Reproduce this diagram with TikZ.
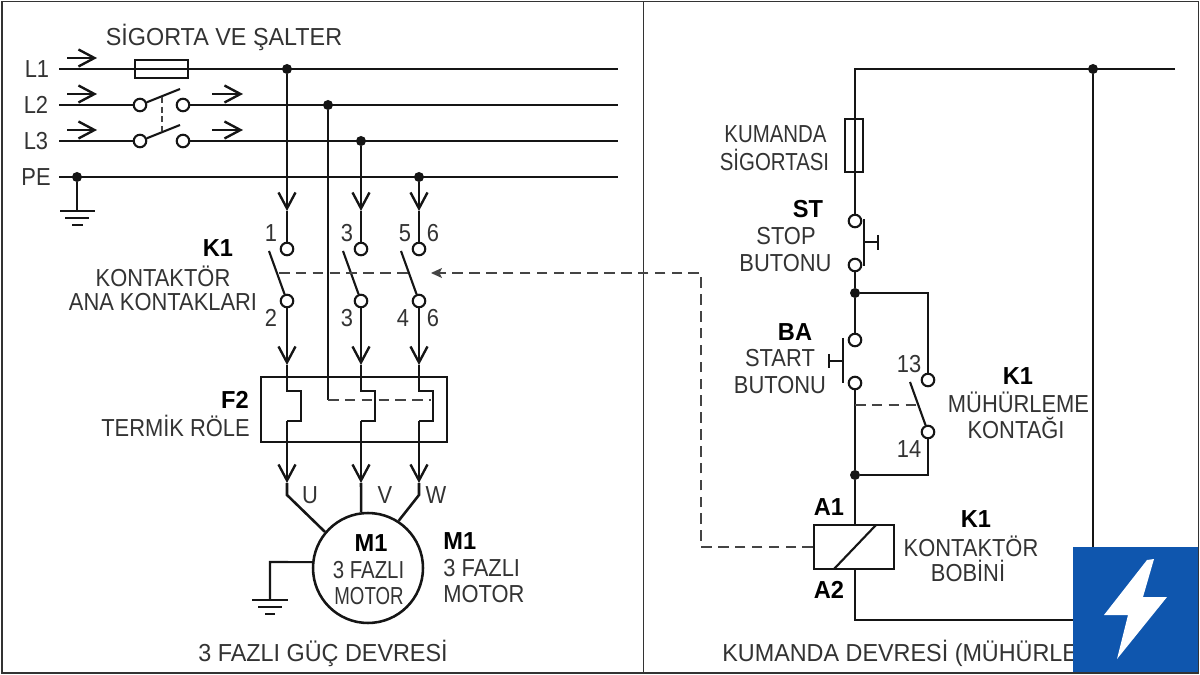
\documentclass[tikz,border=0pt]{standalone}
\usepackage{fontspec}
\setmainfont{Liberation Sans}[FakeStretch=0.89]
\newfontfamily\narrowfont{Liberation Sans}[FakeStretch=0.83]
\newfontfamily\motorfont{Liberation Sans}[FakeStretch=0.76]
\newfontfamily\titlefont{Liberation Sans}[FakeStretch=0.95]
\newfontfamily\heavyfont{Liberation Sans Bold}[FakeStretch=0.96]
\usepackage{xcolor}
\usetikzlibrary{arrows.meta,positioning}
\definecolor{inkgray}{HTML}{333333}
\definecolor{wireblack}{HTML}{151515}
\definecolor{logoblue}{HTML}{0F56AE}
\tikzset{
    wire/.style={draw=wireblack,line width=1.45pt,line join=miter},
    thinwire/.style={draw=wireblack,line width=1.2pt},
    mech/.style={draw=wireblack!80,line width=0.75pt,dash pattern=on 6pt off 3.6pt},
    flowtip/.style={-{Straight Barb[length=3.2mm,width=3.4mm,line width=1.35pt]}},
    terminal/.style={circle,draw=wireblack,fill=white,line width=1.2pt,inner sep=0pt,minimum size=0.25cm},
    junction/.style={circle,fill=wireblack,inner sep=0pt,minimum size=0.2cm},
    lbl/.style={inner sep=0pt,text=inkgray,font=\fontsize{14}{16}\selectfont},
    boldlbl/.style={inner sep=0pt,text=black,font=\fontsize{14}{16}\selectfont\heavyfont},
    titlelbl/.style={inner sep=0pt,text=inkgray,font=\fontsize{14}{16}\selectfont\titlefont},
    narrowlbl/.style={inner sep=0pt,text=inkgray,font=\fontsize{14}{16}\selectfont\narrowfont},
    motorlbl/.style={inner sep=0pt,text=inkgray,font=\fontsize{14}{16}\selectfont\motorfont},
}
\begin{document}
\begin{tikzpicture}[x=0.02cm,y=-0.02cm]
    \useasboundingbox (0,0) rectangle (1200,675);
    \fill[white] (0,0) rectangle (1200,675);

    % Frame
    \coordinate (frameTL) at (2,1.5);
    \coordinate (frameBR) at (1198.5,673);
    \coordinate (splitTop) at (643.5,1.5);
    \coordinate (splitBot) at (643.5,673);
    \draw[draw=inkgray,line width=1.1pt] (frameTL) rectangle (frameBR);
    \draw[draw=inkgray,line width=1.1pt] (splitTop) -- (splitBot);

    % Supply lines
    \coordinate (L1in) at (59,69);
    \coordinate (L1out) at (618,69);
    \coordinate (L2in) at (59,105);
    \coordinate (L2out) at (618,105);
    \coordinate (L3in) at (59,141);
    \coordinate (L3out) at (618,141);
    \coordinate (PEin) at (59,177);
    \coordinate (PEout) at (618,177);
    \node[terminal] (swL2a) at (140,105) {};
    \node[terminal] (swL2b) at (183,105) {};
    \node[terminal] (swL3a) at (140,141) {};
    \node[terminal] (swL3b) at (183,141) {};
    \draw[wire] (L1in) -- (L1out);
    \draw[wire] (L2in) -- (swL2a);
    \draw[wire] (swL2b) -- (L2out);
    \draw[wire] (L3in) -- (swL3a);
    \draw[wire] (swL3b) -- (L3out);
    \draw[wire] (PEin) -- (PEout);
    \node[draw=wireblack,line width=1.2pt,minimum width=1.06cm,minimum height=0.36cm,inner sep=0pt] (fuseL1) at (161.5,69) {};

    % Switch blades
    \coordinate (bladeL2) at (180,89);
    \coordinate (bladeL3) at (180,125);
    \coordinate (linkTop) at (162,97);
    \coordinate (linkBot) at (162,131);
    \draw[thinwire] (swL2a) -- (bladeL2);
    \draw[thinwire] (swL3a) -- (bladeL3);
    \draw[mech,dash pattern=on 3.5pt off 2pt] (linkTop) -- (linkBot);

    % Flow arrows
    \coordinate (flowA1) at (67,58);
    \coordinate (flowA2) at (97,58);
    \coordinate (flowB1) at (67,94);
    \coordinate (flowB2) at (97,94);
    \coordinate (flowC1) at (67,130);
    \coordinate (flowC2) at (97,130);
    \coordinate (flowD1) at (212,94);
    \coordinate (flowD2) at (243,94);
    \coordinate (flowE1) at (212,130);
    \coordinate (flowE2) at (243,130);
    \draw[thinwire,flowtip] (flowA1) -- (flowA2);
    \draw[thinwire,flowtip] (flowB1) -- (flowB2);
    \draw[thinwire,flowtip] (flowC1) -- (flowC2);
    \draw[thinwire,flowtip] (flowD1) -- (flowD2);
    \draw[thinwire,flowtip] (flowE1) -- (flowE2);

    % Junctions on the bus
    \node[junction] (dotL1) at (287,69) {};
    \node[junction] (dotL2) at (328,105) {};
    \node[junction] (dotL3) at (361,141) {};
    \node[junction] (dotPE) at (419,177) {};
    \node[junction] (dotGnd) at (77,177) {};

    % PE earth
    \coordinate (gndA) at (77,211);
    \coordinate (gndA1) at (60,211);
    \coordinate (gndA2) at (95,211);
    \coordinate (gndA3) at (65,218);
    \coordinate (gndA4) at (89,218);
    \coordinate (gndA5) at (72,225);
    \coordinate (gndA6) at (83,225);
    \draw[wire] (dotGnd) -- (gndA);
    \draw[wire] (gndA1) -- (gndA2);
    \draw[wire] (gndA3) -- (gndA4);
    \draw[wire] (gndA5) -- (gndA6);

    % Main contacts
    \node[terminal] (K1a) at (287,249) {};
    \node[terminal] (K1b) at (287,301) {};
    \node[terminal] (K2a) at (361,249) {};
    \node[terminal] (K2b) at (361,301) {};
    \node[terminal] (K3a) at (419,249) {};
    \node[terminal] (K3b) at (419,301) {};
    \coordinate (arrowA1) at (287,211);
    \coordinate (arrowA2) at (361,211);
    \coordinate (arrowA3) at (419,211);
    \draw[wire,flowtip] (dotL1) -- (arrowA1);
    \draw[wire,flowtip] (dotL3) -- (arrowA2);
    \draw[wire,flowtip] (dotPE) -- (arrowA3);
    \draw[wire] (arrowA1) -- (K1a);
    \draw[wire] (arrowA2) -- (K2a);
    \draw[wire] (arrowA3) -- (K3a);
    \coordinate (bladeK1) at (269,251);
    \coordinate (bladeK2) at (343,251);
    \coordinate (bladeK3) at (401,251);
    \draw[thinwire] (K1b) -- (bladeK1);
    \draw[thinwire] (K2b) -- (bladeK2);
    \draw[thinwire] (K3b) -- (bladeK3);

    % Thermal relay
    \node[draw=wireblack,line width=1.2pt,minimum width=3.72cm,minimum height=1.3cm,inner sep=0pt] (relayF2) at (354,409.5) {};
    \coordinate (arrowB1) at (287,365);
    \coordinate (arrowB2) at (361,365);
    \coordinate (arrowB3) at (419,365);
    \draw[wire,flowtip] (K1b) -- (arrowB1);
    \draw[wire,flowtip] (K2b) -- (arrowB2);
    \draw[wire,flowtip] (K3b) -- (arrowB3);
    \coordinate (thA1) at (287,391);
    \coordinate (thA2) at (301,391);
    \coordinate (thA3) at (301,421);
    \coordinate (thA4) at (287,421);
    \coordinate (thB1) at (361,391);
    \coordinate (thB2) at (375,391);
    \coordinate (thB3) at (375,421);
    \coordinate (thB4) at (361,421);
    \coordinate (thC1) at (419,391);
    \coordinate (thC2) at (433,391);
    \coordinate (thC3) at (433,421);
    \coordinate (thC4) at (419,421);
    \draw[wire] (arrowB1) -- (thA1) -- (thA2) -- (thA3) -- (thA4);
    \draw[wire] (arrowB2) -- (thB1) -- (thB2) -- (thB3) -- (thB4);
    \draw[wire] (arrowB3) -- (thC1) -- (thC2) -- (thC3) -- (thC4);

    % L2 down to the relay, and the relay link
    \coordinate (linkF2) at (328,400);
    \coordinate (linkF2end) at (431,400);
    \draw[wire] (dotL2) -- (linkF2);
    \draw[mech] (linkF2) -- (linkF2end);

    % Motor
    \node[circle,draw=wireblack,line width=1.45pt,minimum size=2.2cm,inner sep=0pt] (motorM1) at (368,568) {};
    \coordinate (arrowC1) at (287,483);
    \coordinate (arrowC2) at (361,483);
    \coordinate (arrowC3) at (419,483);
    \draw[wire,flowtip] (thA4) -- (arrowC1);
    \draw[wire,flowtip] (thB4) -- (arrowC2);
    \draw[wire,flowtip] (thC4) -- (arrowC3);
    \coordinate (bendU) at (287,495);
    \coordinate (bendW) at (419,495);
    \draw[wire] (arrowC1) -- (bendU) -- (motorM1.140);
    \draw[wire] (arrowC2) -- (motorM1.97);
    \draw[wire] (arrowC3) -- (bendW) -- (motorM1.57);

    % Motor earth
    \coordinate (gndB) at (270,562);
    \coordinate (gndB0) at (270,600);
    \coordinate (gndB1) at (252,600);
    \coordinate (gndB2) at (288,600);
    \coordinate (gndB3) at (258,607);
    \coordinate (gndB4) at (282,607);
    \coordinate (gndB5) at (265,614);
    \coordinate (gndB6) at (275,614);
    \draw[thinwire] (motorM1.174) -- (gndB) -- (gndB0);
    \draw[wire] (gndB1) -- (gndB2);
    \draw[wire] (gndB3) -- (gndB4);
    \draw[wire] (gndB5) -- (gndB6);

    % Control supply
    \coordinate (ctlCorner) at (855,69);
    \coordinate (ctlEnd) at (1175,69);
    \coordinate (ctlReturn) at (1093,620);
    \coordinate (ctlBottom) at (855,620);
    \node[junction] (dotCtl) at (1093,69) {};
    \node[draw=wireblack,line width=1.2pt,minimum width=0.36cm,minimum height=1.06cm,inner sep=0pt] (fuseCtl) at (854,145.5) {};
    \node[terminal] (stopA) at (855,221) {};
    \node[terminal] (stopB) at (855,265) {};
    \node[junction] (dotSeal) at (855,293) {};
    \node[terminal] (startA) at (855,340) {};
    \node[terminal] (startB) at (855,383) {};
    \node[terminal] (sealA) at (928,380) {};
    \node[terminal] (sealB) at (928,432) {};
    \node[junction] (dotCoil) at (855,475) {};
    \node[draw=wireblack,line width=1.2pt,minimum width=1.6cm,minimum height=0.88cm,inner sep=0pt] (coilK1) at (854,547) {};
    \coordinate (sealCornerA) at (928,293);
    \coordinate (sealCornerB) at (928,475);
    \draw[wire] (ctlEnd) -- (ctlCorner) -- (stopA);
    \draw[wire] (dotCtl) -- (ctlReturn) -- (ctlBottom) -- (coilK1.south -| ctlBottom);
    \draw[wire] (stopB) -- (dotSeal);
    \draw[wire] (dotSeal) -- (startA);
    \draw[wire] (dotSeal) -- (sealCornerA) -- (sealA);
    \draw[wire] (startB) -- (dotCoil);
    \draw[wire] (sealB) -- (sealCornerB) -- (dotCoil);
    \draw[wire] (dotCoil) -- (coilK1.north -| dotCoil);

    % Push buttons
    \coordinate (stopBarT) at (864,219);
    \coordinate (stopBarB) at (864,266);
    \coordinate (stopMid) at (864,242);
    \coordinate (stopStem) at (878,242);
    \coordinate (stopCapT) at (878,235);
    \coordinate (stopCapB) at (878,250);
    \draw[thinwire] (stopBarT) -- (stopBarB);
    \draw[thinwire] (stopMid) -- (stopStem);
    \draw[thinwire] (stopCapT) -- (stopCapB);
    \coordinate (startBarT) at (843,338);
    \coordinate (startBarB) at (843,383);
    \coordinate (startMid) at (843,361);
    \coordinate (startStem) at (829,361);
    \coordinate (startCapT) at (829,354);
    \coordinate (startCapB) at (829,368);
    \draw[thinwire] (startBarT) -- (startBarB);
    \draw[thinwire] (startMid) -- (startStem);
    \draw[thinwire] (startCapT) -- (startCapB);

    % Seal-in blade
    \coordinate (bladeSeal) at (910,382);
    \coordinate (linkSealA) at (855,405);
    \coordinate (linkSealB) at (919,405);
    \draw[thinwire] (sealB) -- (bladeSeal);
    \draw[mech] (linkSealA) -- (linkSealB);

    % Coil slash
    \coordinate (slashA) at (834,569);
    \coordinate (slashB) at (876,525);
    \draw[thinwire] (slashA) -- (slashB);

    % Mechanical link from the coil
    \coordinate (mechA) at (701,547);
    \coordinate (mechB) at (701,273);
    \coordinate (mechTip) at (431,273);
    \coordinate (mechK1) at (279,273);
    \coordinate (mechK3) at (411,273);
    \draw[mech,-{Stealth[length=2.2mm,width=2mm,inset=0.5mm]}] (coilK1.west) -- (mechA) -- (mechB) -- (mechTip);
    \draw[mech] (mechK1) -- (mechK3);

    % Power side labels
    \node[lbl] (tagL1) at (37,69) {L1};
    \node[lbl] (tagL2) at (36,105) {L2};
    \node[lbl] (tagL3) at (36,141) {L3};
    \node[lbl] (tagPE) at (36,177) {PE};
    \node[titlelbl] (tagFuse) at (224,37) {SİGORTA VE ŞALTER};
    \node[boldlbl] (tagK1) at (218,248) {K1};
    \node[lbl] (tagK1a) at (163,276) {KONTAKTÖR};
    \node[lbl] (tagK1b) at (163,302) {ANA KONTAKLARI};
    \node[lbl] (num1) at (271,233) {1};
    \node[lbl] (num3) at (347,233) {3};
    \node[lbl] (num5) at (405,233) {5};
    \node[lbl] (num6) at (433,233) {6};
    \node[lbl] (num2b) at (271,318) {2};
    \node[lbl] (num3b) at (347,318) {3};
    \node[lbl] (num4b) at (403,318) {4};
    \node[lbl] (num6b) at (433,318) {6};
    \node[boldlbl] (tagF2) at (235,400) {F2};
    \node[lbl] (tagF2a) at (175.5,426) {TERMİK RÖLE};
    \node[lbl] (tagU) at (310,495) {U};
    \node[lbl] (tagV) at (385,495) {V};
    \node[lbl] (tagW) at (436,495) {W};
    \node[boldlbl] (tagM1) at (371,543) {M1};
    \node[narrowlbl] (tagM1a) at (368.5,570) {3 FAZLI};
    \node[motorlbl] (tagM1b) at (369,596) {MOTOR};
    \node[boldlbl,anchor=west] (sideM1) at (443,541) {M1};
    \node[lbl,anchor=west] (sideM1a) at (443,568) {3 FAZLI};
    \node[lbl,anchor=west] (sideM1b) at (443,594) {MOTOR};
    \node[titlelbl] (capPower) at (323,653) {3 FAZLI GÜÇ DEVRESİ};

    % Control side labels
    \node[narrowlbl] (tagCtlA) at (775.5,134) {KUMANDA};
    \node[narrowlbl] (tagCtlB) at (774.5,160) {SİGORTASI};
    \node[boldlbl] (tagST) at (808,209) {ST};
    \node[lbl] (tagSTa) at (786,236) {STOP};
    \node[lbl] (tagSTb) at (785.5,263) {BUTONU};
    \node[boldlbl] (tagBA) at (795,332) {BA};
    \node[lbl] (tagBAa) at (780,358) {START};
    \node[lbl] (tagBAb) at (780,385) {BUTONU};
    \node[lbl] (num13) at (909,364) {13};
    \node[lbl] (num14) at (909,449) {14};
    \node[boldlbl] (tagSeal) at (1018,376) {K1};
    \node[lbl] (tagSeala) at (1018.5,402) {MÜHÜRLEME};
    \node[lbl] (tagSealb) at (1016,428) {KONTAĞI};
    \node[boldlbl] (tagA1) at (829,507) {A1};
    \node[boldlbl] (tagA2) at (829,590) {A2};
    \node[boldlbl] (tagCoil) at (976,519) {K1};
    \node[lbl] (tagCoila) at (971,546) {KONTAKTÖR};
    \node[lbl] (tagCoilb) at (968,571) {BOBİNİ};
    \node[titlelbl,anchor=west] (capCtl) at (722,653) {KUMANDA DEVRESİ (MÜHÜRLE};

    % Logo
    \fill[logoblue] (1073,547) rectangle (1198,672);
    \fill[white] (1147,560) -- (1154,559) -- (1143,597) -- (1167,597) -- (1117,659) -- (1128,615) -- (1104,615) -- cycle;
\end{tikzpicture}
\end{document}
